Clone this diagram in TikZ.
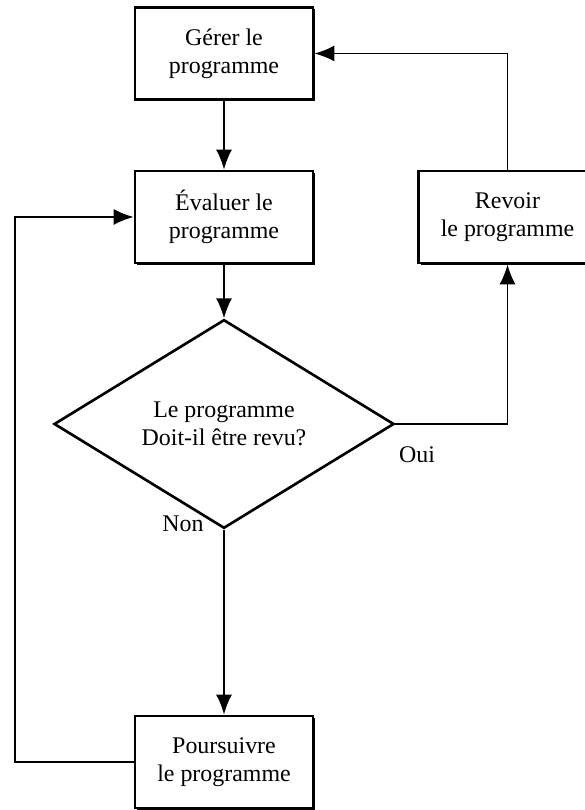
\documentclass[tikz,border=0pt]{standalone}
\usepackage{fontspec}
\setmainfont{Liberation Serif}
\usetikzlibrary{arrows.meta, positioning, shapes.geometric, shadows}

\tikzset{
  etape/.style={draw, line width=1.6pt, fill=white, minimum width=3.56cm, minimum height=1.84cm, align=center,
    drop shadow={shadow xshift=0.04cm, shadow yshift=-0.04cm, fill=black, opacity=1}},
  question/.style={draw, diamond, line width=1.5pt, minimum width=6.8cm, minimum height=3.58cm, inner sep=0pt, align=center},
  fleche/.style={line width=1pt, -{Latex[length=4mm, width=3.2mm]}},
}

\begin{document}
\begin{tikzpicture}[font=\fontsize{13.6}{16}\selectfont]
    \useasboundingbox (0,0) rectangle (11.7,16.2);

    \node[etape] (gerer) at (4.48,15.13) {Gérer le\\ programme};
    \node[etape] (evaluer) at (4.48,11.86) {Évaluer le\\ programme};
    \node[etape] (revoir) at (10.15,11.86) {Revoir\\ le programme};
    \node[question] (q) at (4.48,7.72) {Le programme\\ Doit-il être revu?};
    \node[etape] (poursuivre) at (4.48,0.96) {Poursuivre\\ le programme};

    \node at (8.34,7.1) (oui) {Oui};
    \node at (3.66,5.72) (non) {Non};
    \coordinate (gauche) at (0.3,6);

    \draw[fleche] (gerer) -- (evaluer);
    \draw[fleche] (evaluer) -- (q);
    \draw[fleche] (q) -- (poursuivre);
    \draw[fleche] (q.east) -| (revoir.south);
    \draw[fleche] (revoir.north) |- (gerer.east);
    % retour vers l'evaluation
    \draw[fleche] (poursuivre.west) -| (gauche) |- (evaluer.west);
\end{tikzpicture}
\end{document}
